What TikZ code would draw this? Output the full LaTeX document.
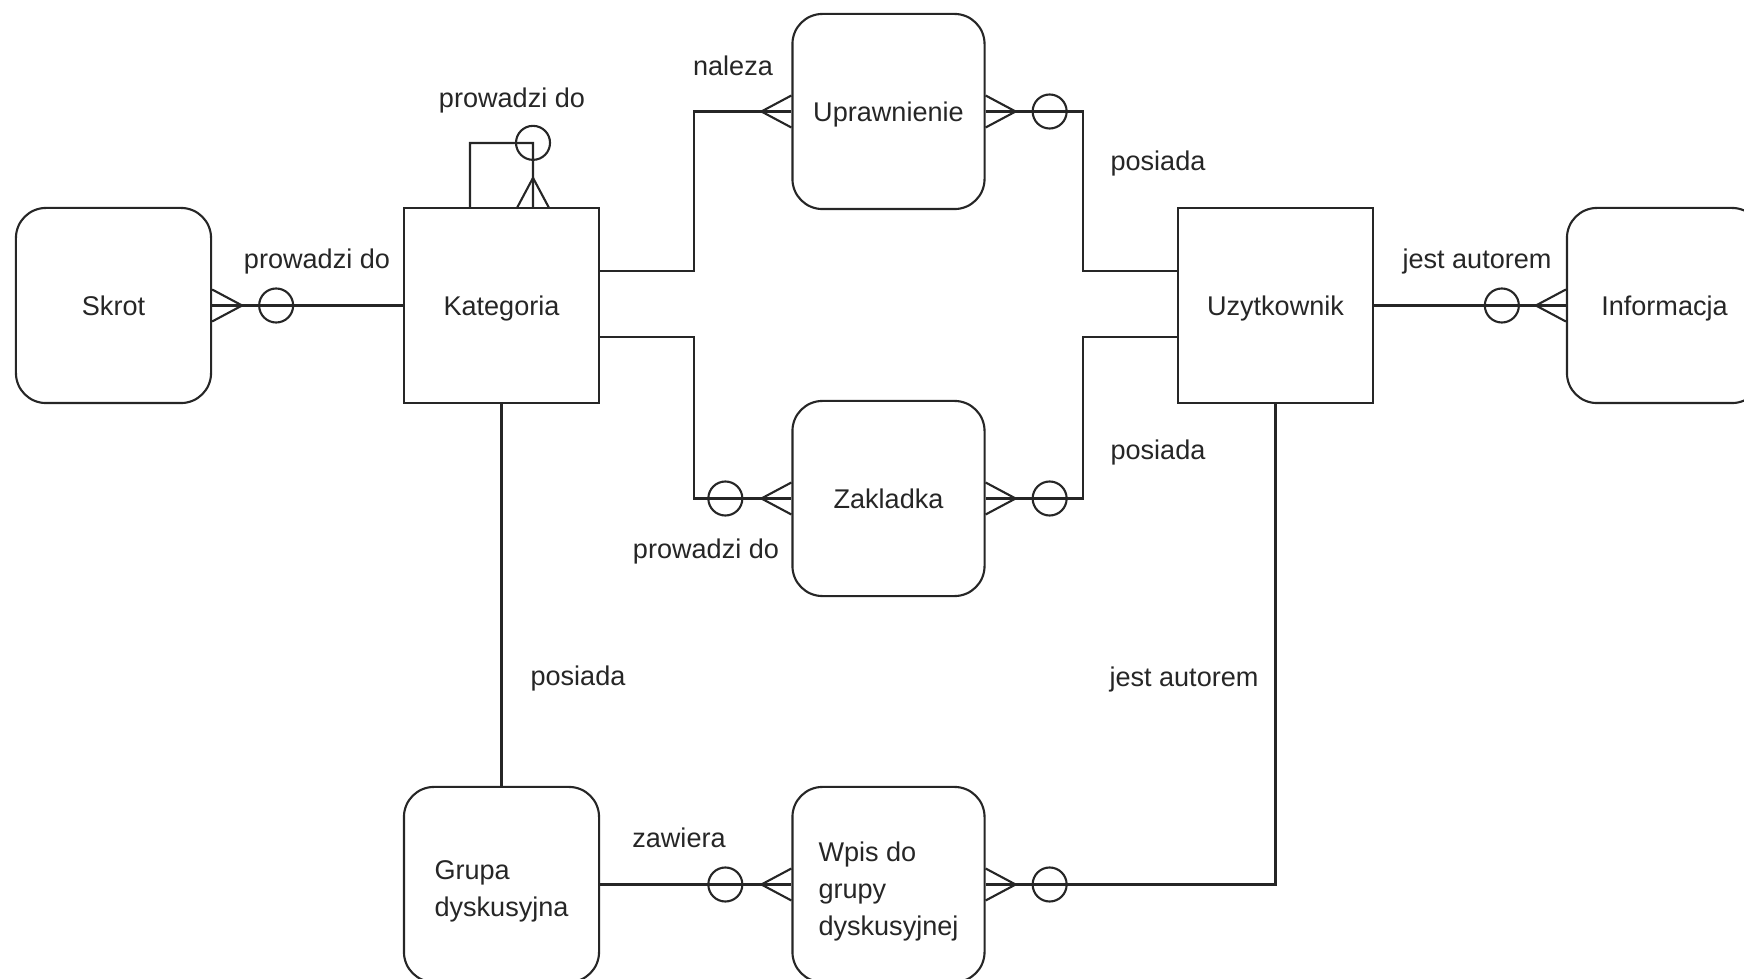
\documentclass[tikz,border=0pt]{standalone}
\usepackage{fontspec}
\setmainfont{Liberation Sans}
\begin{document}
\begin{tikzpicture}[x=0.01cm,y=-0.01cm,line width=0.6pt,color=black!85,
		font=\fontsize{7.7}{10.5}\selectfont,
		ramka/.style={draw,minimum width=1.95cm,minimum height=1.95cm,inner sep=0pt},
		encja/.style={ramka,text depth=0pt},
		slaba/.style={encja,rounded corners=0.3cm},
		grupowa/.style={ramka,rounded corners=0.3cm,align=left},
		waska/.style={minimum width=1.92cm},
		opis/.style={inner sep=0pt,text depth=0pt},
		kurza/.pic={\draw (0.3cm,0.16cm) -- (0,0) -- (0.3cm,-0.16cm);}]
		\useasboundingbox (0,0) rectangle (1744,979);
		\clip (0,0) rectangle (1744,979);
		\node[slaba] (skrot) at (113.5,305.5) {Skrot};
		\node[encja] (kat) at (501.5,305.5) {Kategoria};
		\node[slaba,waska] (upr) at (888.5,111.5) {Uprawnienie};
		\node[slaba,waska] (zak) at (888.5,498.5) {Zakladka};
		\node[encja] (uzy) at (1275.5,305.5) {Uzytkownik};
		\node[slaba] (inf) at (1664.5,305.5) {Informacja};
		\node[grupowa] (grupa) at (501.5,884.5) {\rule{0pt}{9.5pt}Grupa\\dyskusyjna};
		\node[grupowa,waska] (wpis) at (888.5,884.5) {\rule{0pt}{9.5pt}Wpis do\\grupy\\dyskusyjnej};
		\coordinate (n1) at (694,111.5);
		\coordinate (n2) at (1083,111.5);
		\coordinate (n3) at (694,498.5);
		\coordinate (n4) at (1083,498.5);
		\coordinate (n5) at (533,143);
		\draw (skrot) -- (kat);
		\draw ([yshift=3.45mm]kat.east) -| (n1) -- (upr.west);
		\draw (upr.east) -- (n2) |- ([yshift=3.45mm]uzy.west);
		\draw ([yshift=-3.15mm]kat.east) -| (n3) -- (zak.west);
		\draw (zak.east) -- (n4) |- ([yshift=-3.15mm]uzy.west);
		\draw ([xshift=-3.15mm]kat.north) |- (n5) -- ([xshift=3.15mm]kat.north);
		\draw (kat) -- (grupa);
		\draw (grupa) -- (wpis);
		\draw (wpis.east) -| (uzy.south);
		\draw (uzy) -- (inf);
		\pic[rotate=180] at ([xshift=3mm]skrot.east) {kurza};
		\draw ([xshift=6.4mm]skrot.east) circle (0.17cm);
		\pic[rotate=-90] at ([xshift=3.15mm,yshift=2.9mm]kat.north) {kurza};
		\draw ([xshift=3.15mm,yshift=6.4mm]kat.north) circle (0.17cm);
		\pic at ([xshift=-3mm]upr.west) {kurza};
		\pic[rotate=180] at ([xshift=3mm]upr.east) {kurza};
		\draw ([xshift=6.4mm]upr.east) circle (0.17cm);
		\pic at ([xshift=-3mm]zak.west) {kurza};
		\draw ([xshift=-6.6mm]zak.west) circle (0.17cm);
		\pic[rotate=180] at ([xshift=3mm]zak.east) {kurza};
		\draw ([xshift=6.4mm]zak.east) circle (0.17cm);
		\pic at ([xshift=-3mm]wpis.west) {kurza};
		\draw ([xshift=-6.6mm]wpis.west) circle (0.17cm);
		\pic[rotate=180] at ([xshift=3mm]wpis.east) {kurza};
		\draw ([xshift=6.4mm]wpis.east) circle (0.17cm);
		\pic at ([xshift=-3mm]inf.west) {kurza};
		\draw ([xshift=-6.4mm]inf.west) circle (0.17cm);
		\node[opis] (l1) at (317,259) {prowadzi do};
		\node[opis] (l2) at (512,98) {prowadzi do};
		\node[opis] (l3) at (733,66) {naleza};
		\node[opis] (l4) at (1158,161) {posiada};
		\node[opis] (l5) at (1158,450) {posiada};
		\node[opis] (l6) at (706,549) {prowadzi do};
		\node[opis] (l7) at (578,676) {posiada};
		\node[opis] (l8) at (1184,677) {jest autorem};
		\node[opis] (l9) at (1477,259) {jest autorem};
		\node[opis] (l10) at (679,838) {zawiera};
	\end{tikzpicture}
\end{document}
